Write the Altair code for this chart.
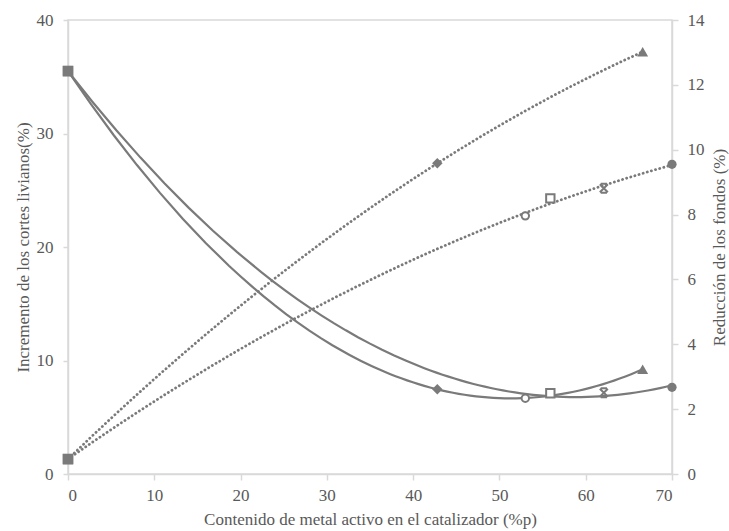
import altair as alt
import pandas as pd

# --- data ---
x_a = [0, 42.8, 66.6]
x_b = [0, 53.0, 55.9, 62.1, 70.0]
solid_a = [35.5, 7.46, 9.22]            # left axis
solid_b = [35.5, 6.67, 7.11, 7.16, 7.64]
dotted_a = [0.46, 9.58, 13.02]          # right axis
dotted_b = [0.46, 7.96, 8.50, 8.81, 9.55]
markers_a = ["square", "diamond", "triangle-up"]
markers_b = ["square", "circle", "square", "xbar", "circle"]
filled_a = [True, True, True]
filled_b = [True, False, False, False, True]

x_ticks = [0, 10, 20, 30, 40, 50, 60, 70]
left_ticks = [0, 10, 20, 30, 40]
right_ticks = [0, 2, 4, 6, 8, 10, 12, 14]

XBAR = "M-0.7,-0.7L0.7,0.7M0.7,-0.7L-0.7,0.7M-0.55,-0.8L0.55,-0.8M-0.55,0.8L0.55,0.8"
SHAPES = {"square": "square", "diamond": "diamond", "triangle-up": "triangle-up",
          "circle": "circle", "xbar": XBAR}
SIZES = {("square", True): 110, ("diamond", True): 110, ("triangle-up", True): 120,
         ("circle", True): 85, ("circle", False): 55, ("square", False): 70,
         ("xbar", False): 130}

rows = []
for s, xs, yl, yr, mk, fl in [("A", x_a, solid_a, dotted_a, markers_a, filled_a),
                              ("B", x_b, solid_b, dotted_b, markers_b, filled_b)]:
    for i in range(len(xs)):
        rows.append({"series": s, "x": xs[i], "yl": yl[i], "yr": yr[i],
                     "shape": SHAPES[mk[i]], "filled": fl[i],
                     "size": SIZES[(mk[i], fl[i])]})
df = pd.DataFrame(rows)

GRAY = "#7a7a7a"
FONT = "Liberation Serif, Times New Roman, serif"
base = alt.Chart(df)

xenc = alt.X("x:Q", scale=alt.Scale(domain=[0, 70], nice=False),
             axis=alt.Axis(values=x_ticks, title="Contenido de metal activo en el catalizador (%p)",
                           tickSize=6, labelPadding=7, titlePadding=8))

yl_enc = alt.Y("yl:Q", scale=alt.Scale(domain=[0, 40], nice=False),
               axis=alt.Axis(values=left_ticks, orient="left",
                             title="Incremento de los cortes livianos(%)",
                             tickSize=5, labelPadding=10, titlePadding=4))
yr_enc = alt.Y("yr:Q", scale=alt.Scale(domain=[0, 14], nice=False),
               axis=alt.Axis(values=right_ticks, orient="right",
                             title="Reducción de los fondos (%)", titleAngle=270,
                             titleBaseline="bottom",
                             tickSize=6, labelPadding=9, titlePadding=24))

shape_enc = alt.Shape("shape:N", scale=None)
size_enc = alt.Size("size:Q", scale=None)

line_l = base.transform_regression("x", "yl", method="poly", order=2, groupby=["series"]).mark_line(
    color=GRAY, strokeWidth=2.2).encode(x=xenc, y=yl_enc, detail="series:N")
pf_l = base.transform_filter("datum.filled").mark_point(filled=True, color=GRAY, opacity=1).encode(
    x=xenc, y=yl_enc, shape=shape_enc, size=size_enc)
po_l = base.transform_filter("!datum.filled").mark_point(filled=False, color=GRAY, strokeWidth=2,
                                                        opacity=1, fill="white", fillOpacity=1).encode(
    x=xenc, y=yl_enc, shape=shape_enc, size=size_enc)

line_r = base.transform_regression("x", "yr", method="poly", order=2, groupby=["series"]).mark_line(
    color=GRAY, strokeWidth=2.8, strokeDash=[0.1, 4.2], strokeCap="round").encode(
    x=xenc, y=yr_enc, detail="series:N")
pf_r = base.transform_filter("datum.filled").mark_point(filled=True, color=GRAY, opacity=1).encode(
    x=xenc, y=yr_enc, shape=shape_enc, size=size_enc)
po_r = base.transform_filter("!datum.filled").mark_point(filled=False, color=GRAY, strokeWidth=2,
                                                        opacity=1, fill="white", fillOpacity=1).encode(
    x=xenc, y=yr_enc, shape=shape_enc, size=size_enc)

left = alt.layer(line_l, pf_l, po_l)
right = alt.layer(line_r, pf_r, po_r)

chart = alt.layer(left, right).resolve_scale(y="independent").properties(
    width=604, height=454, autosize="none",
    padding={"left": 68, "top": 20, "right": 57, "bottom": 57},
    background="white",
).configure_view(stroke="#d9d9d9", strokeWidth=1.5).configure_axis(
    grid=False,
    domainColor="#d9d9d9", domainWidth=1.5,
    tickColor="#d9d9d9", tickWidth=1.5,
    labelFont=FONT, labelFontSize=17, labelColor="#595959",
    titleFont=FONT, titleFontSize=17, titleFontWeight="normal", titleColor="#595959",
)

chart.save("out.html", embed_options={"renderer": "svg", "actions": False})
